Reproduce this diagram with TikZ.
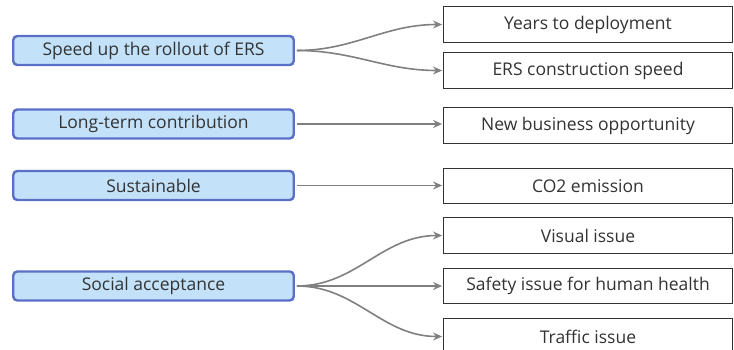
\documentclass[tikz,border=0pt]{standalone}
\usepackage{fontspec}
\setmainfont{Open Sans}
\usetikzlibrary{arrows.meta}

\definecolor{goalfill}{HTML}{C3E2FA}
\definecolor{goalline}{HTML}{5C6FC6}
\definecolor{linkgray}{HTML}{808080}
\definecolor{textgray}{HTML}{333333}

\tikzset{
  goal/.style={draw=goalline, line width=2.4pt, fill=goalfill, rounded corners=4pt,
    minimum width=280.5pt, minimum height=29pt, inner sep=0pt, text=textgray,
    font=\fontsize{17.5}{20}\selectfont},
  crit/.style={draw=textgray, line width=1.3pt, fill=white,
    minimum width=288.5pt, minimum height=35.5pt, inner sep=0pt, text=textgray,
    font=\fontsize{17.5}{20}\selectfont},
  link/.style={draw=linkgray, line width=1.6pt, -{Stealth[length=9pt,width=8pt]},
    shorten <=2pt, shorten >=1pt}
}

\begin{document}
\begin{tikzpicture}[x=1pt, y=-1pt]
  \useasboundingbox (0,0) rectangle (734,350);

  % goals
  \node[goal] (speed) at (153.5, 50.5) {Speed up the rollout of ERS};
  \node[goal] (longterm) at (153.5, 124) {Long-term contribution};
  \node[goal] (sustain) at (153.5, 185.5) {Sustainable};
  \node[goal] (social) at (153.5, 286) {Social acceptance};

  % criteria
  \node[crit] (years) at (588, 24.5) {Years to deployment};
  \node[crit] (construct) at (588, 70.5) {ERS construction speed};
  \node[crit] (business) at (588, 125.5) {New business opportunity};
  \node[crit] (co2) at (588, 186) {CO2 emission};
  \node[crit] (visual) at (588, 235.5) {Visual issue};
  \node[crit] (safety) at (588, 286) {Safety issue for human health};
  \node[crit] (traffic) at (588, 336.5) {Traffic issue};

  % links
  \draw[link] (speed.east) to[out=0, in=180] (years.west);
  \draw[link] (speed.east) to[out=0, in=180] (construct.west);
  \draw[link] (longterm.east) -- (longterm.east -| business.west);
  \draw[link] (sustain.east) -- (sustain.east -| co2.west);
  \draw[link] (social.east) to[out=0, in=180] (visual.west);
  \draw[link] (social.east) -- (safety.west);
  \draw[link] (social.east) to[out=0, in=180] (traffic.west);
\end{tikzpicture}
\end{document}
